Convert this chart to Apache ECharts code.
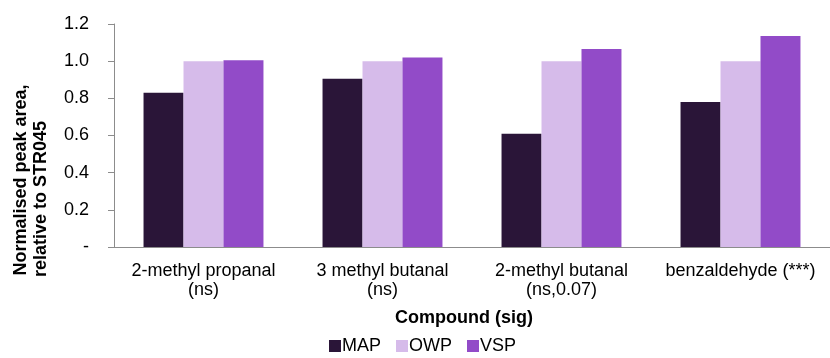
<!DOCTYPE html>
<html>
<head>
<meta charset="utf-8">
<script src="https://cdn.jsdelivr.net/npm/echarts@6/dist/echarts.min.js"></script>
<style>
  html, body { margin: 0; padding: 0; background: #fff; }
  #chart { width: 830px; height: 358px; }
</style>
</head>
<body>
<div id="chart"></div>
<script>
// compounds and their significance notes
var compounds = ["2-methyl propanal", "3 methyl butanal", "2-methyl butanal", "benzaldehyde (***)"];
var sig = ["(ns)", "(ns)", "(ns,0.07)", ""];

var mapData = [0.83, 0.905, 0.61, 0.78];
var owpData = [1.0, 1.0, 1.0, 1.0];
var vspData = [1.005, 1.02, 1.065, 1.135];

var categories = compounds.map(function (c, i) {
  return sig[i] ? c + "\n" + sig[i] : c;
});

var font = "Liberation Sans, Arial, sans-serif";
var axisColor = "#8c8c8c";

var chart = echarts.init(document.getElementById("chart"));
var option = {
  animation: false,
  grid: { left: 114, right: 0, top: 24, bottom: 111 },
  legend: {
    data: ["MAP", "OWP", "VSP"],
    left: 324,
    top: 332,
    icon: "rect",
    itemWidth: 12,
    itemHeight: 12,
    itemGap: 15,
    textStyle: { fontFamily: font, fontSize: 18, color: "#000", padding: [0, 0, 0, -4] }
  },
  xAxis: {
    type: "category",
    data: categories,
    axisLine: { lineStyle: { color: axisColor, width: 1 } },
    axisTick: { length: 6, lineStyle: { color: axisColor } },
    axisLabel: {
      margin: 15,
      interval: 0,
      fontFamily: font,
      fontSize: 18,
      color: "#000",
      lineHeight: 19
    }
  },
  yAxis: {
    type: "value",
    min: 0,
    max: 1.2,
    interval: 0.2,
    splitLine: { show: false },
    axisLine: { show: true, lineStyle: { color: axisColor, width: 1 } },
    axisTick: { show: true, length: 6, lineStyle: { color: axisColor } },
    axisLabel: {
      margin: 25,
      fontFamily: font,
      fontSize: 18,
      color: "#000",
      formatter: function (v) {
        return v === 0 ? "-" : v.toFixed(1);
      }
    }
  },
  graphic: [
    {
      type: "text",
      x: 21, y: 180,
      rotation: Math.PI / 2,
      style: {
        text: "Normalised peak area,",
        font: "bold 18px " + font,
        fill: "#000",
        textAlign: "center",
        textVerticalAlign: "middle"
      }
    },
    {
      type: "text",
      x: 41, y: 199,
      rotation: Math.PI / 2,
      style: {
        text: "relative to STR045",
        font: "bold 18px " + font,
        fill: "#000",
        textAlign: "center",
        textVerticalAlign: "middle"
      }
    },
    {
      type: "text",
      x: 464, y: 318,
      style: {
        text: "Compound (sig)",
        font: "bold 18px " + font,
        fill: "#000",
        textAlign: "center",
        textVerticalAlign: "middle"
      }
    }
  ],
  series: [
    { name: "MAP", type: "bar", data: mapData, barGap: "0%", barCategoryGap: "33%", itemStyle: { color: "#2a1538" } },
    { name: "OWP", type: "bar", data: owpData, itemStyle: { color: "#d6bbea" } },
    { name: "VSP", type: "bar", data: vspData, itemStyle: { color: "#924bc8" } }
  ]
};
chart.setOption(option);
</script>
</body>
</html>
